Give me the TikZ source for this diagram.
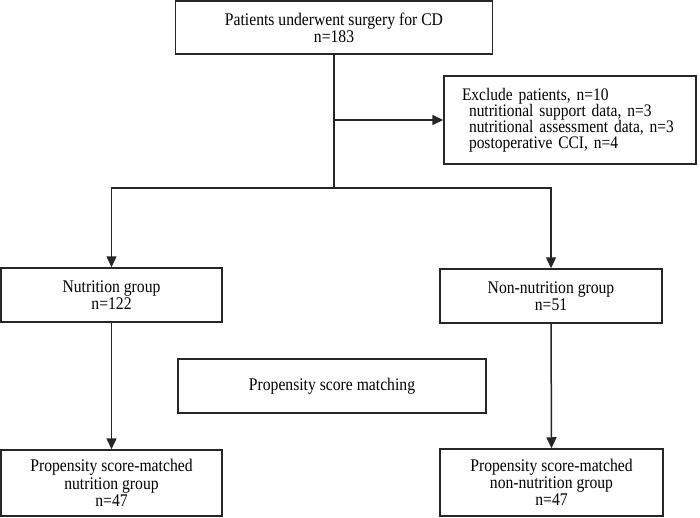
\documentclass[tikz,border=0pt]{standalone}
\usepackage{fontspec}
\setmainfont[FakeStretch=0.88]{Liberation Serif}
\usetikzlibrary{arrows.meta}

\begin{document}
\begin{tikzpicture}[x=1pt,y=-1pt,
  box/.style={draw=black!85,line width=1.5pt,align=center,inner sep=0pt,
    font=\fontsize{17.8}{17.3}\selectfont},
  link/.style={draw=black!85,line width=1.5pt},
  >={Triangle[length=11pt,width=10pt]}]
 \useasboundingbox (0,0) rectangle (700,518);
 \node[box,minimum width=317pt,minimum height=53pt] (pat) at (334,27.5)
   {Patients underwent surgery for CD\\n=183}; %上段
 \node[box,minimum width=252pt,minimum height=88pt,text width=216pt,align=left,
   font=\fontsize{17.6}{16}\selectfont] (excl) at (570,120)
   {Exclude patients, n=10\\
    \hspace*{7pt}nutritional support data, n=3\\
    \hspace*{7pt}nutritional assessment data, n=3\\
    \hspace*{7pt}postoperative CCI, n=4}; %除外
 \node[box,minimum width=221pt,minimum height=54pt] (nut) at (111.5,295)
   {Nutrition group\\n=122};
 \node[box,minimum width=222pt,minimum height=54pt] (non) at (551,296)
   {Non-nutrition group\\n=51};
 \node[box,minimum width=308pt,minimum height=54pt] (psm) at (332,386)
   {Propensity score matching};
 \node[box,minimum width=221pt,minimum height=66pt] (mnut) at (111.5,483)
   {Propensity score-matched\\nutrition group\\n=47};
 \node[box,minimum width=223pt,minimum height=67pt] (mnon) at (551.5,482.5)
   {Propensity score-matched\\non-nutrition group\\n=47};
 \coordinate (fork) at (pat.south |- 0,188); %分岐
 \coordinate (side) at (pat.south |- excl.west);
 \draw[link] (pat.south) -- (fork);
 \draw[link,->] (side) -- (excl.west);
 \draw[link,->] (fork) -| (nut.north);
 \draw[link,->] (fork) -| (non.north);
 \draw[link,->] (nut.south) -- (mnut.north);
 \draw[link,->] (non.south) -- (mnon.north);
\end{tikzpicture}
\end{document}
